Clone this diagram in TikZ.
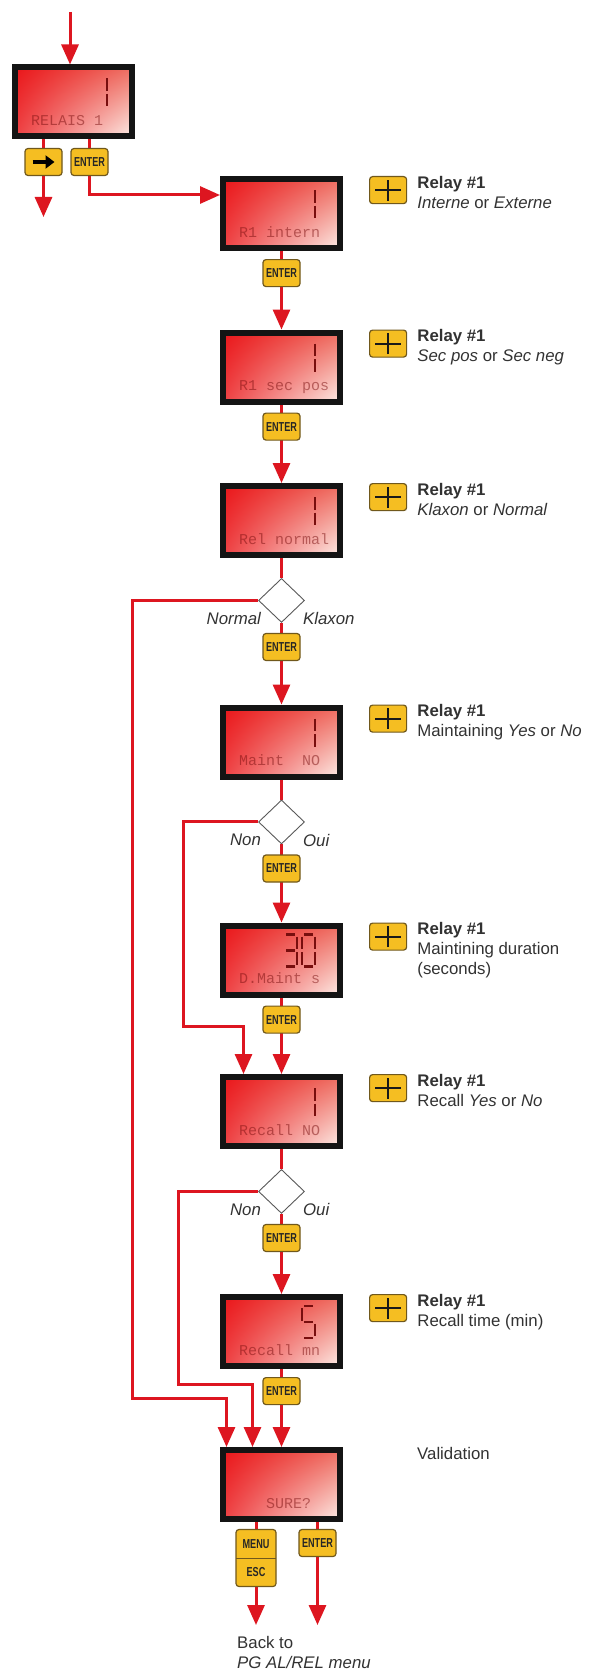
\documentclass[tikz,border=0pt]{standalone}
\usepackage{fontspec}
\setmainfont{Liberation Sans}
\setmonofont{Liberation Mono}
\usetikzlibrary{arrows.meta, positioning, shapes.geometric, backgrounds, shadings}

\definecolor{flowred}{RGB}{221,22,32}
\definecolor{btnfill}{RGB}{245,190,34}
\definecolor{btnline}{RGB}{112,88,28}
\definecolor{lcdhot}{RGB}{234,22,26}
\definecolor{lcdmid}{RGB}{238,110,98}
\definecolor{lcdpale}{RGB}{252,236,230}
\definecolor{lcdink}{RGB}{120,14,14}
\definecolor{notegray}{RGB}{50,50,50}

\newcommand{\btnfont}{\fontsize{13}{13}\selectfont\bfseries}
\newcommand{\btnlbl}[1]{\scalebox{0.7}[1]{#1}}
\newcommand{\notefont}{\fontsize{16.8}{20}\selectfont}

\tikzset{
  lcd/.style={shade, upper left=lcdhot, upper right=lcdmid, lower left=lcdhot!80!lcdpale,
    lower right=lcdpale, draw=black!92, line width=6pt, minimum width=117pt,
    minimum height=69pt, inner sep=0pt},
  lcdtxt/.style={font=\fontsize{15}{15}\selectfont\ttfamily, text=lcdink, text opacity=0.5,
    inner sep=0pt, anchor=base west},
  segline/.style={draw=lcdink, line width=2.6pt},
  digit/.pic={\foreach \s in {#1}{%
      \ifcase\s\relax
        \draw[segline] (-2,0) -- (-11,0);
      \or \draw[segline] (0,2) -- (0,14.5);
      \or \draw[segline] (0,17.5) -- (0,30);
      \or \draw[segline] (-2,32) -- (-11,32);
      \or \draw[segline] (-13,17.5) -- (-13,30);
      \or \draw[segline] (-13,2) -- (-13,14.5);
      \or \draw[segline] (-2,16) -- (-11,16);
      \fi}},
  btn/.style={draw=btnline, fill=btnfill, line width=1.2pt, rounded corners=3pt,
    minimum width=37pt, minimum height=27pt, inner sep=0pt, font=\btnfont, text=black!85},
  plusbtn/.style={btn, path picture={
    \draw[black!90, line width=2pt] ([xshift=-13pt]path picture bounding box.center)
      -- ([xshift=13pt]path picture bounding box.center);
    \draw[black!90, line width=2pt] ([yshift=-10.5pt]path picture bounding box.center)
      -- ([yshift=10.5pt]path picture bounding box.center);}},
  arrowbtn/.style={btn, path picture={
    \draw[black, line width=4pt, -{Triangle[length=9pt, width=13pt]}]
      ([xshift=-11pt]path picture bounding box.center)
      -- ([xshift=11pt]path picture bounding box.center);}},
  menubtn/.style={btn, minimum width=40pt, minimum height=57pt, align=center,
    path picture={\draw[btnline, line width=1pt] (path picture bounding box.west)
      -- (path picture bounding box.east);}},
  decision/.style={diamond, draw=black!65, fill=white, line width=0.9pt,
    minimum width=46pt, minimum height=44pt, inner sep=0pt},
  flow/.style={draw=flowred, line width=3pt, -{Triangle[length=20pt, width=17pt]}},
  flowline/.style={draw=flowred, line width=3pt},
  note/.style={font=\notefont, text=notegray, align=left, inner sep=0pt},
  branchlbl/.style={font=\notefont\itshape, text=notegray, inner sep=0pt}
}

\begin{document}
\begin{tikzpicture}[x=1pt, y=-1pt]
\useasboundingbox (0,0) rectangle (591,1672);

\node[lcd] (d1) at (73.5,102) {};
\foreach \n/\y in {2/213.5, 3/367, 4/520.5, 5/742, 6/960, 7/1111.5, 8/1331.5, 9/1484.5}
  \node[lcd] (d\n) at (281.5,\y) {};

\foreach \n/\txt in {1/RELAIS 1, 2/R1 intern, 3/R1 sec pos, 4/Rel normal, 5/Maint\ \ NO,
    6/D.Maint s, 7/Recall NO, 8/Recall mn}
  \node[lcdtxt] (t\n) at ([xshift=19pt, yshift=14pt]d\n.south west) {\txt};
\node[lcdtxt] (t9) at ([xshift=46pt, yshift=14pt]d9.south west) {SURE?};

\foreach \n in {1,2,3,4,5,7}
  \path (d\n.north east) ++(-28,12) pic {digit={1,2}};
\path (d6.north east) ++(-28,12) pic {digit={0,1,2,3,4,5}};
\path (d6.north east) ++(-46,12) pic {digit={0,1,2,3,6}};
\path (d8.north east) ++(-28,12) pic {digit={0,5,6,2,3}};

\node[arrowbtn] (a1) at (43.5,162) {};
\node[btn] (e1) at (89.5,162) {\btnlbl{ENTER}};
\foreach \n in {2,3,6,8}
  \node[btn, below=8pt of d\n] (e\n) {\btnlbl{ENTER}};
\foreach \n in {4,5,7}{
  \node[decision, below=20pt of d\n] (c\n) {};
  \node[btn, below=10pt of c\n] (e\n) {\btnlbl{ENTER}};
}
\node[menubtn] (m9) at (256,1558) {\btnlbl{MENU}\\[15pt]\btnlbl{ESC}};
\node[btn] (e9) at (317.5,1543) {\btnlbl{ENTER}};

\node[branchlbl, anchor=north east, xshift=3pt, yshift=-12pt] (l4a) at (c4.west) {Normal};
\node[branchlbl, anchor=north west, xshift=-2pt, yshift=-12pt] (l4b) at (c4.east) {Klaxon};
\foreach \n in {5,7}{
  \node[branchlbl, anchor=north east, xshift=3pt, yshift=-12pt] (l\n a) at (c\n.west) {Non};
  \node[branchlbl, anchor=north west, xshift=-2pt, yshift=-12pt] (l\n b) at (c\n.east) {Oui};
}

\foreach \n/\body in {2/{\textit{Interne} or \textit{Externe}}, 3/{\textit{Sec pos} or \textit{Sec neg}},
    4/{\textit{Klaxon} or \textit{Normal}}, 5/{Maintaining \textit{Yes} or \textit{No}},
    6/{Maintining duration\\(seconds)}, 7/{Recall \textit{Yes} or \textit{No}},
    8/{Recall time (min)}}{
  \node[plusbtn, right=26pt of d\n.north east, anchor=north west] (k\n) {};
  \node[note, right=10pt of k\n.north east, anchor=north west] (n\n)
    {\textbf{Relay \#1}\\\body};
}
\node[note, right=74pt of d9.north east, anchor=north west] (val) {Validation};
\node[note, anchor=north west] (back) at (237,1636) {Back to\\\textit{PG AL/REL menu}};

\coordinate (in1) at (70,12);
\coordinate (out1) at (43.5,217);
\coordinate (j4) at (132,1398);
\coordinate (j5) at (183,1026);
\coordinate (j7) at (178,1384);
\coordinate (x9a) at (256,1625);
\coordinate (x9b) at (317.5,1625);

\begin{scope}[on background layer]
\draw[flow] (in1) -- (in1 |- d1.north);
\draw[flow] (a1 |- d1.south) -- (out1);
\draw[flow] (e1 |- d1.south) |- ([yshift=18.5pt]d2.west);
\foreach \a/\b in {d2/d3, d3/d4, c4/d5, c5/d6, d6/d7, c7/d8, d8/d9}
  \draw[flow] (\a) -- (\b);
\foreach \n in {4,5,7}
  \draw[flowline] (d\n) -- (c\n);
\draw[flow] (c4.west) -| (j4) -| ([xshift=-55pt]d9.north);
\draw[flow] (c5.west) -| (j5) -| ([xshift=-38pt]d7.north);
\draw[flow] (c7.west) -| (j7) -| ([xshift=-29pt]d9.north);
\draw[flow] (m9 |- d9.south) -- (x9a);
\draw[flow] (e9 |- d9.south) -- (x9b);
\end{scope}
\end{tikzpicture}
\end{document}
